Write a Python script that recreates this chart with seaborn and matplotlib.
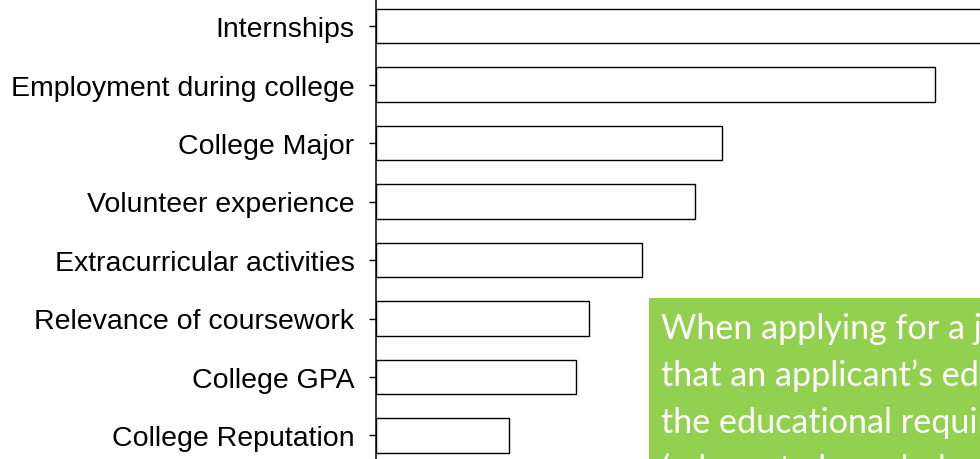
import matplotlib
matplotlib.use("Agg")
import matplotlib.pyplot as plt
import seaborn as sns
import pandas as pd
from matplotlib.patches import Rectangle

# Data (top to bottom)
factors = ['Internships', 'Employment during college', 'College Major',
           'Volunteer experience', 'Extracurricular activities',
           'Relevance of coursework', 'College GPA', 'College Reputation']
scores = [25, 21, 13, 12, 10, 8, 7.5, 5]

note_lines = ['When applying for a job, employers expect',
              'that an applicant\u2019s education matches',
              'the educational requirements',
              '(adequate knowledge and skills)']

df = pd.DataFrame({'factor': factors, 'score': scores})

sns.set_style('white')
plt.rcParams['font.family'] = ['Liberation Sans', 'DejaVu Sans']

W, H = 980, 460
fig = plt.figure(figsize=(W / 100, H / 100), dpi=100)
ax = fig.add_axes([376 / W, 0, 1 - 376 / W, 1])

sns.barplot(data=df, x='score', y='factor', orient='h', color='white',
            edgecolor='black', linewidth=1.0, width=0.59, ax=ax,
            saturation=1)

# pixel layout: first bar centre at 27 px, step 58.5 px
step = 58.5
ax.set_ylim((H - 27) / step, -27 / step)
ax.set_xlim(0, 604 / 26.6)

for s in ['top', 'right', 'bottom']:
    ax.spines[s].set_visible(False)
ax.spines['left'].set_color('black')
ax.spines['left'].set_linewidth(1.1)
ax.set_xticks([])
ax.set_xlabel('')
ax.set_ylabel('')
ax.tick_params(axis='y', which='major', left=True, length=5, width=1.0,
               color='black', pad=10.5, labelsize=20.5, labelcolor='black')

# green note box (cropped at the edge of the picture)
fig.patches.append(Rectangle((649 / W, 0), 1, (H - 299) / H,
                             transform=fig.transFigure, facecolor='#92D050',
                             edgecolor='none', zorder=5))
for i, line in enumerate(note_lines):
    fig.text(661 / W, 1 - (339 + 47 * i) / H, line, color='white',
             family=['Lato', 'DejaVu Sans'], fontsize=24.6, va='baseline',
             ha='left', zorder=6)

fig.savefig('out.png', dpi=100)
